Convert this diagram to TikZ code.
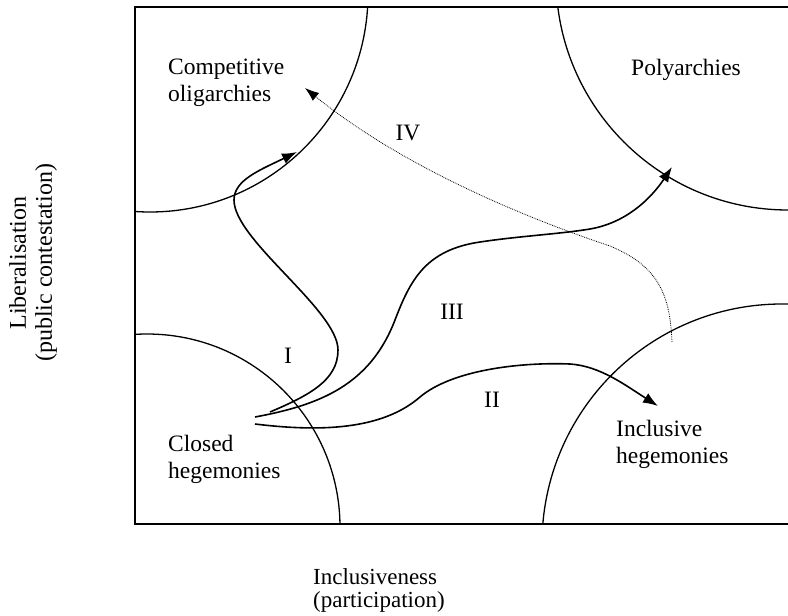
\documentclass[tikz,border=0pt]{standalone}
\usepackage{fontspec}
\setmainfont{Liberation Serif}
\usetikzlibrary{arrows.meta}
\begin{document}
\begin{tikzpicture}[x=1pt,y=-1pt,
  frame/.style={line width=1.5pt},
  zone/.style={line width=1.3pt},
  route/.style={line width=1.6pt,-{Latex[length=15pt,width=11pt]}},
  dotroute/.style={line width=0.8pt,densely dotted,-{Latex[length=14pt,width=10pt]}},
  lab/.style={font=\fontsize{23.5}{26.5}\selectfont,inner sep=0pt,align=left},
  axis/.style={font=\fontsize{23}{23}\selectfont,inner sep=0pt},
  num/.style={font=\fontsize{23.5}{26}\selectfont,inner sep=0pt}]
\useasboundingbox (0,0) rectangle (788,616);
% frame
\draw[frame] (135,7) rectangle (792,524);
% zones (quarter circles clipped to frame)
\begin{scope}
  \clip (135,7) rectangle (788,524);
  \draw[zone] (150,-6) circle[radius=218pt];
  \draw[zone] (788,-22) circle[radius=232pt];
  \draw[zone] (147,527) circle[radius=193pt];
  \draw[zone] (782,544) circle[radius=240pt];
\end{scope}
% region labels (anchor = baseline of last line)
\node[lab,anchor=base west] (co) at (168,101) {Competitive\\oligarchies};
\node[lab,anchor=base west] (po) at (631,75) {Polyarchies};
\node[lab,anchor=base west] (ch) at (168,478) {Closed\\hegemonies};
\node[lab,anchor=base west] (ih) at (616,463) {Inclusive\\hegemonies};
% path numbers
\node[num] (nIV) at (408,133) {IV};
\node[num] (nIII) at (452,312) {III};
\node[num] (nI) at (288,356) {I};
\node[num] (nII) at (492,400) {II};
% axis labels
\node[axis,anchor=base west,align=left] (xl) at (313,607) {Inclusiveness\\(participation)};
\node[axis,rotate=90,align=center,font=\fontsize{24}{26}\selectfont] (yl) at (33,263) {Liberalisation\\(public contestation)};
% path endpoints
\coordinate (sI) at (270,412);
\coordinate (tI) at (297,152);
\coordinate (sII) at (255,424);
\coordinate (tII) at (658,406);
\coordinate (sIII) at (255,417);
\coordinate (tIII) at (672,167);
\coordinate (sIV) at (672,342);
\coordinate (tIV) at (305,88);
% path I
\draw[route] (sI) .. controls (310,395) and (338,380) .. (338,350)
  .. controls (338,310) and (234,240) .. (234,200)
  .. controls (234,180) and (260,170) .. (tI);
% path II
\draw[route] (sII) .. controls (320,432) and (382,430) .. (420,397)
  .. controls (452,370) and (520,362) .. (570,364)
  .. controls (600,366) and (625,385) .. (tII);
% path III
\draw[route] (sIII) .. controls (320,405) and (370,385) .. (395,320)
  .. controls (410,281) and (425,250) .. (480,242)
  .. controls (520,236) and (560,234) .. (590,229)
  .. controls (625,223) and (650,200) .. (tIII);
% path IV
\draw[dotroute] (sIV) .. controls (670,290) and (655,265) .. (610,246)
  .. controls (520,216) and (400,165) .. (tIV);
\end{tikzpicture}
\end{document}
